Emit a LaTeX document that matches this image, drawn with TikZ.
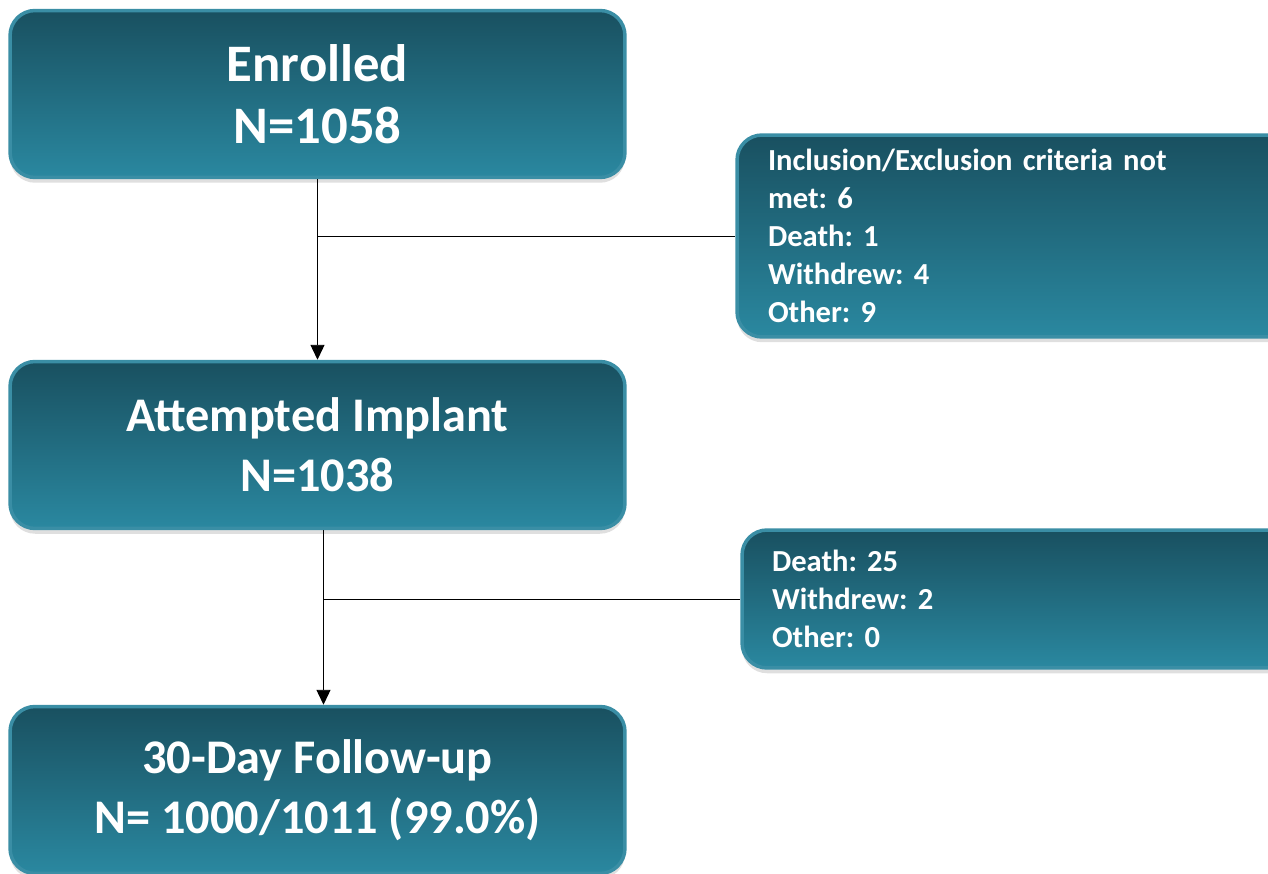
\documentclass[tikz,border=0pt]{standalone}
\usepackage{fontspec}
\setmainfont{Carlito}
\usepackage{tikz}
\usetikzlibrary{positioning, arrows.meta, shadows}

\definecolor{boxtop}{RGB}{25,80,96}
\definecolor{boxbottom}{RGB}{42,136,160}
\definecolor{boxrim}{RGB}{58,142,165}

\begin{document}
\frenchspacing
\begin{tikzpicture}[x=0.02cm, y=-0.02cm,
    stagebox/.style={rectangle, rounded corners=0.5cm, draw=boxrim, line width=2pt,
        top color=boxtop, bottom color=boxbottom, text=white, align=center,
        font=\fontsize{27.5}{34}\selectfont\bfseries,
        minimum width=12.3cm, minimum height=3.34cm,
        drop shadow={shadow xshift=0pt, shadow yshift=-3pt, opacity=0.25}},
    lossbox/.style={rectangle, rounded corners=0.5cm, draw=boxrim, line width=2pt,
        top color=boxtop, bottom color=boxbottom, text=white, align=left,
        font=\fontsize{17.4}{21.6}\selectfont\bfseries,
        inner xsep=0.62cm, text width=10cm,
        drop shadow={shadow xshift=0pt, shadow yshift=-3pt, opacity=0.25}},
    flow/.style={-{Triangle[width=8pt, length=8.5pt]}, line width=0.5pt}]
                    \useasboundingbox (0,0) rectangle (1268,874);

                    \node[stagebox, font=\fontsize{30}{35.5}\selectfont\bfseries] (enrolled) at (317.5, 94) {Enrolled\\N=1058};
                    \node[stagebox] (implant) at (317.5, 445) {Attempted Implant\\N=1038};
                    \node[stagebox] (followup) at (317.5, 790) {30-Day Follow-up\\N= 1000/1011 (99.0\%)};

                    \node[lossbox, minimum height=4.04cm] (excluded) at (1018, 236) {Inclusion/Exclusion criteria not\\met: 6\\Death: 1\\Withdrew: 4\\Other: 9};
                    \node[lossbox, minimum height=2.76cm, inner xsep=0.6cm] (lost) at (1022, 599) {Death: 25\\Withdrew: 2\\Other: 0};

                    \coordinate (split1) at (enrolled.south |- excluded.west);
                    \coordinate (split2) at ([xshift=0.12cm]implant.south |- lost.west);

                    \draw[flow] (enrolled) -- (implant);
                    \draw[line width=0.5pt] (split1) -- (excluded.west);
                    \draw[flow] ([xshift=0.12cm]implant.south) -- ([xshift=0.12cm]followup.north);
                    \draw[line width=0.5pt] (split2) -- (lost.west);
                \end{tikzpicture}
\end{document}
